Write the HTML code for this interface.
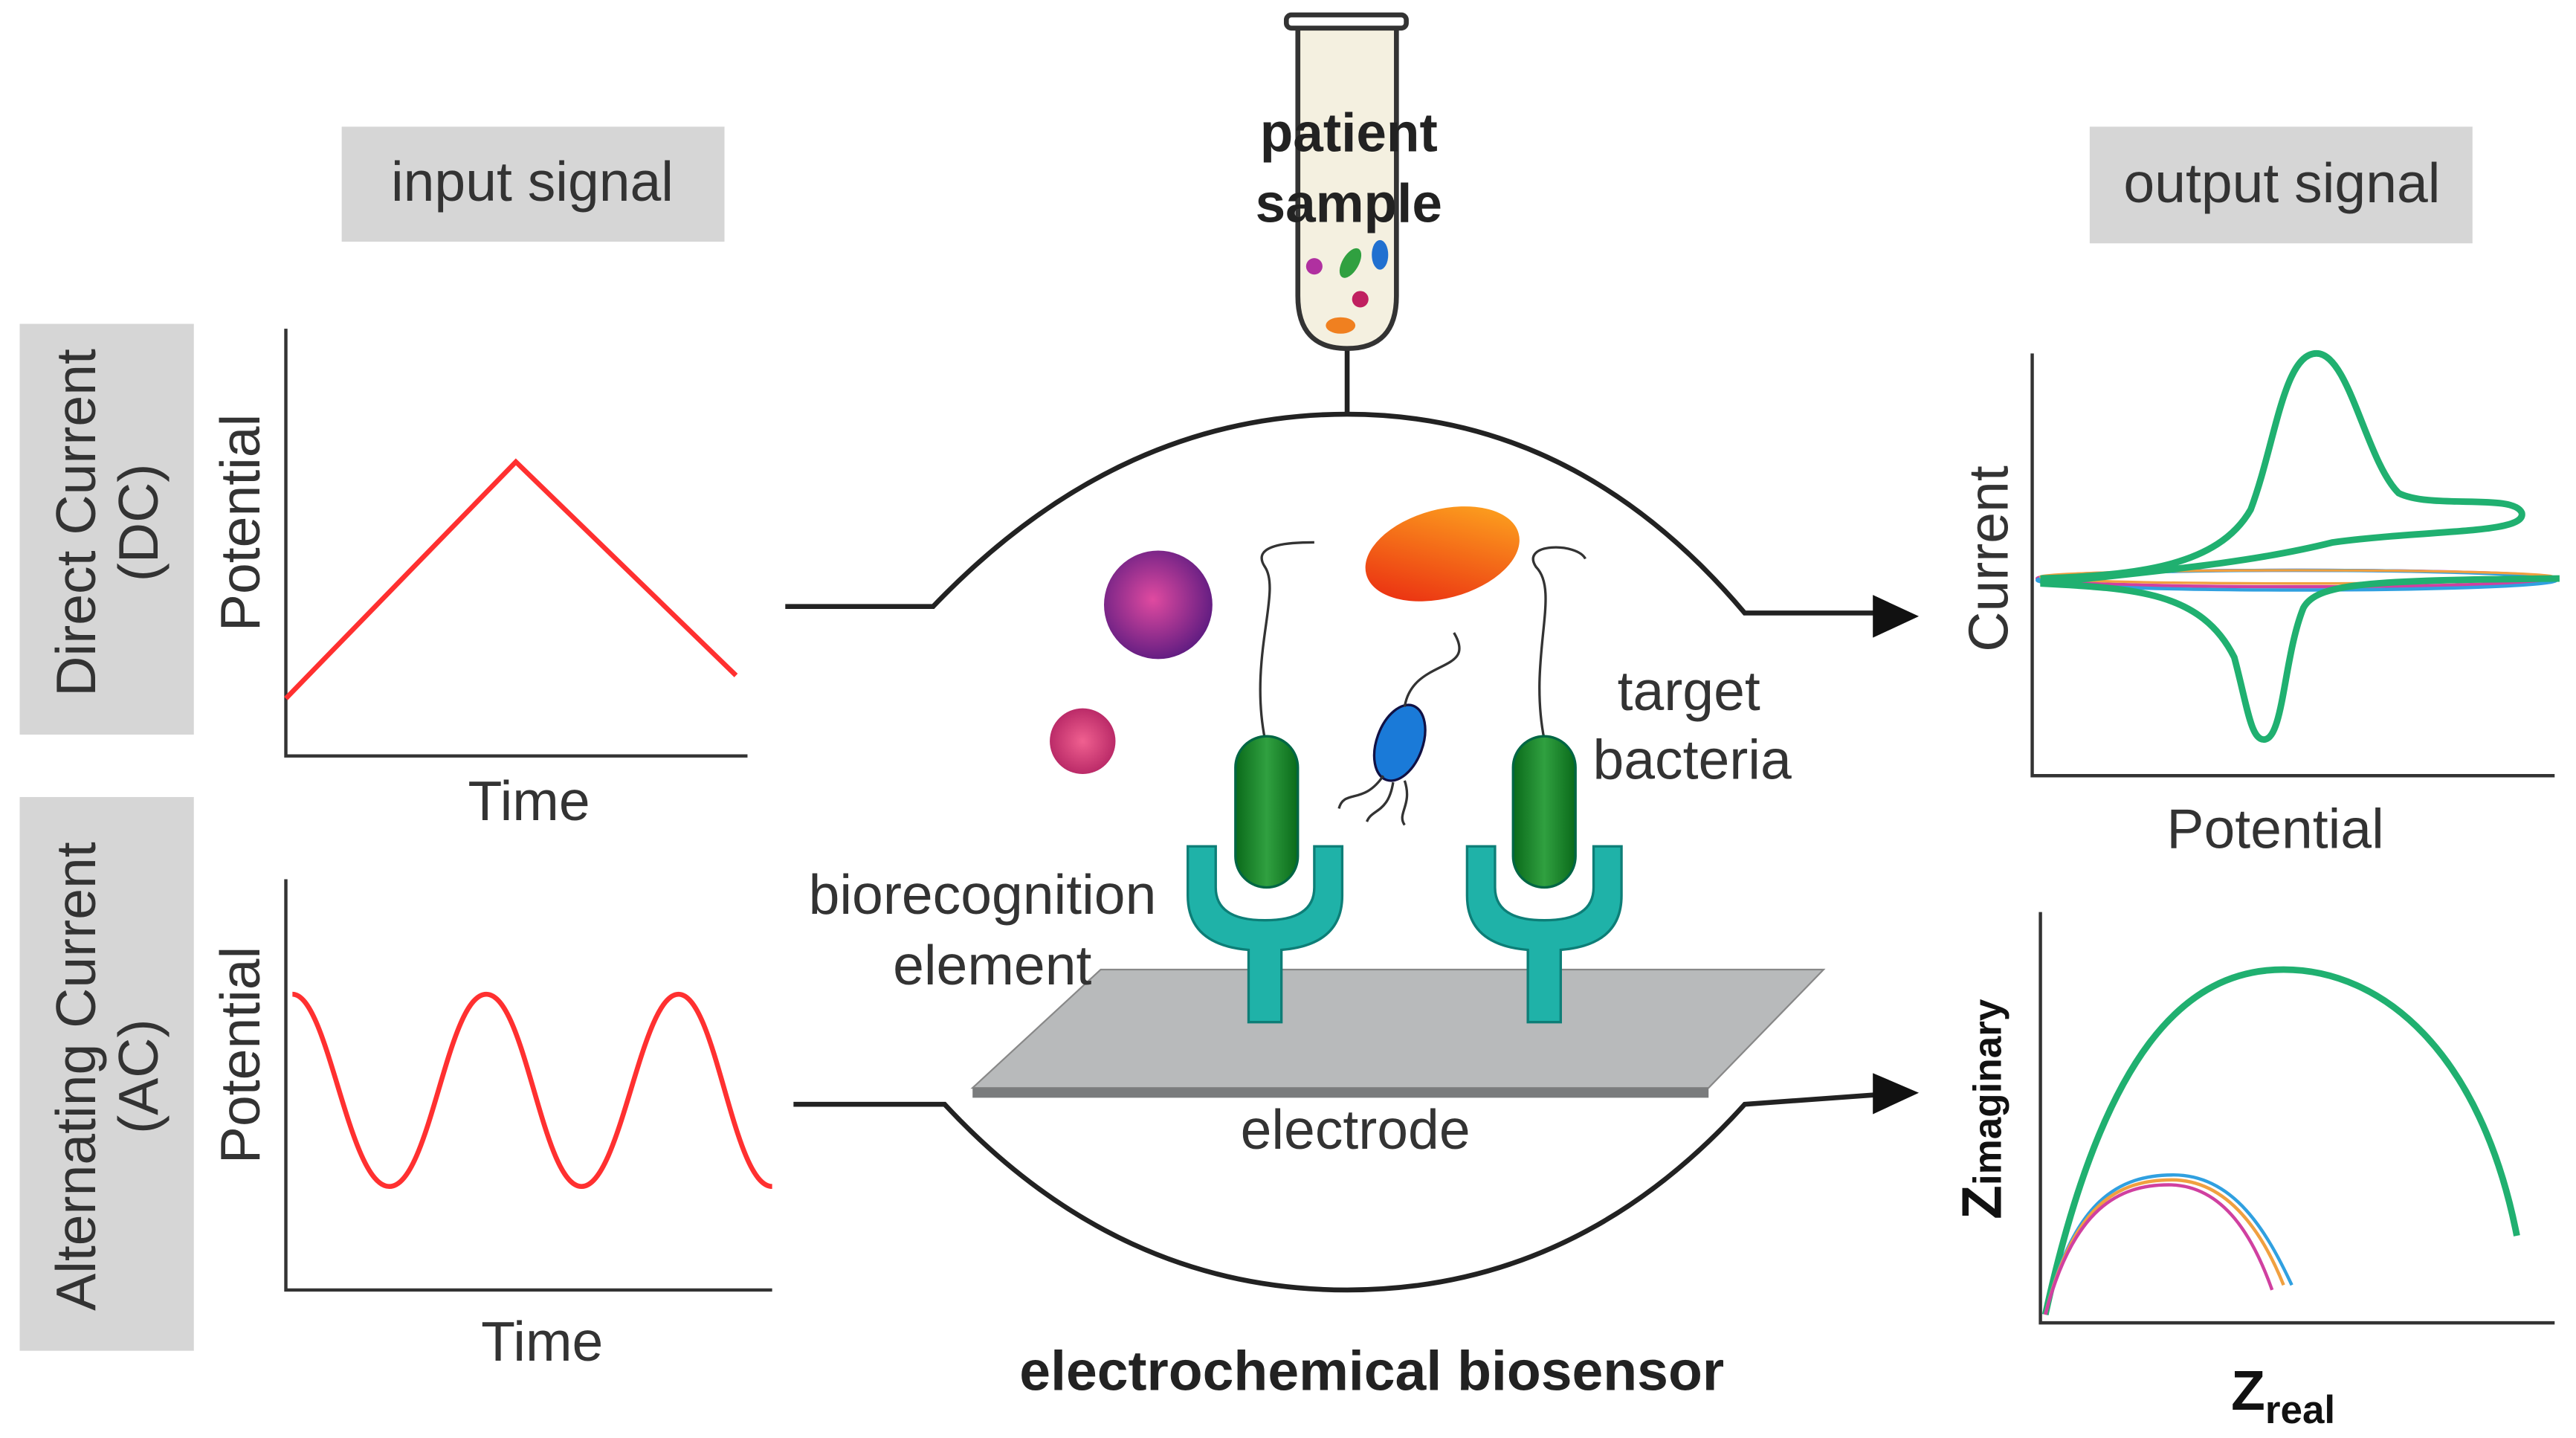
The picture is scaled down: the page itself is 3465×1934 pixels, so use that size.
<!DOCTYPE html>
<html><head><meta charset="utf-8"><style>
html,body{margin:0;padding:0;background:#fff;}
svg{display:block;}
text{font-family:"Liberation Sans",sans-serif;fill:#333;}
</style></head><body>
<svg width="3465" height="1934" viewBox="0 0 1568 875" xmlns="http://www.w3.org/2000/svg">
<defs>
<radialGradient id="pur" cx="0.45" cy="0.45" r="0.6"><stop offset="0" stop-color="#e04aa0"/><stop offset="1" stop-color="#5a1a80"/></radialGradient>
<radialGradient id="pink" cx="0.5" cy="0.5" r="0.6"><stop offset="0" stop-color="#f06090"/><stop offset="1" stop-color="#b02060"/></radialGradient>
<linearGradient id="org" x1="0" y1="1" x2="1" y2="0"><stop offset="0" stop-color="#e82010"/><stop offset="1" stop-color="#ffb020"/></linearGradient>
<linearGradient id="grn" x1="0" x2="1"><stop offset="0" stop-color="#0a6a1a"/><stop offset="0.5" stop-color="#30a040"/><stop offset="1" stop-color="#0a6a1a"/></linearGradient>
</defs>
<rect x="208" y="77" width="233" height="70" fill="#d6d6d6"/>
<text x="324" y="122" font-size="34" text-anchor="middle">input signal</text>
<rect x="1272" y="77" width="233" height="71" fill="#d6d6d6"/>
<text x="1389" y="123" font-size="34" text-anchor="middle">output signal</text>
<rect x="12" y="197" width="106" height="250" fill="#d6d6d6"/>
<text transform="translate(58,318) rotate(-90)" font-size="34" text-anchor="middle">Direct Current</text>
<text transform="translate(96,318) rotate(-90)" font-size="34" text-anchor="middle">(DC)</text>
<rect x="12" y="485" width="106" height="337" fill="#d6d6d6"/>
<text transform="translate(58,655) rotate(-90)" font-size="34" text-anchor="middle">Alternating Current</text>
<text transform="translate(96,655) rotate(-90)" font-size="34" text-anchor="middle">(AC)</text>
<path d="M174,200 L174,460 L455,460" fill="none" stroke="#333" stroke-width="2"/>
<text transform="translate(158,318) rotate(-90)" font-size="34" text-anchor="middle">Potential</text>
<text x="322" y="499" font-size="34" text-anchor="middle">Time</text>
<path d="M174,425 L314,281 L448,411" fill="none" stroke="#ff3030" stroke-width="3"/>
<path d="M174,535 L174,785 L470,785" fill="none" stroke="#333" stroke-width="2"/>
<text transform="translate(158,642) rotate(-90)" font-size="34" text-anchor="middle">Potential</text>
<text x="330" y="828" font-size="34" text-anchor="middle">Time</text>
<path d="M178,605 C200,605 212,722 237,722 C262,722 272,605 296,605 C320,605 330,722 354,722 C378,722 390,605 413,605 C436,605 446,722 470,722" fill="none" stroke="#ff3030" stroke-width="3"/>
<path d="M478,369 L568,369 Q680,252 820,252 Q960,252 1062,373 L1145,373" fill="none" stroke="#222" stroke-width="3"/>
<path d="M1140,362 L1168,375 L1140,388 Z" fill="#111"/>
<path d="M483,672 L575,672 Q680,785 820,785 Q960,785 1062,672 L1145,666" fill="none" stroke="#222" stroke-width="3"/>
<path d="M1140,653 L1168,665 L1140,678 Z" fill="#111"/>
<line x1="820" y1="212" x2="820" y2="252" stroke="#222" stroke-width="3"/>
<path d="M790,16 L790,180 Q790,212 820,212 Q850,212 850,180 L850,16" fill="#f4f0e0" stroke="#333" stroke-width="3"/>
<rect x="783" y="9" width="73" height="8" rx="3" fill="#fff" stroke="#333" stroke-width="3"/>
<ellipse cx="800" cy="162" rx="5" ry="5" fill="#b030a0"/>
<ellipse cx="822" cy="160" rx="5" ry="10" fill="#30a040" transform="rotate(30 822 160)"/>
<ellipse cx="840" cy="155" rx="5" ry="9" fill="#2070d0"/>
<ellipse cx="828" cy="182" rx="5" ry="5" fill="#c02060"/>
<ellipse cx="816" cy="198" rx="9" ry="5" fill="#f08020"/>
<text x="821" y="92" font-size="33" font-weight="bold" text-anchor="middle" style="fill:#222">patient</text>
<text x="821" y="135" font-size="33" font-weight="bold" text-anchor="middle" style="fill:#222">sample</text>
<circle cx="705" cy="368" r="33" fill="url(#pur)"/>
<circle cx="659" cy="451" r="20" fill="url(#pink)"/>
<ellipse cx="878" cy="337" rx="48" ry="27" fill="url(#org)" transform="rotate(-15 878 337)"/>
<ellipse cx="852" cy="452" rx="14" ry="24" fill="#1a7ad8" stroke="#114" stroke-width="1.5" transform="rotate(20 852 452)"/>
<path d="M855,430 C860,400 900,410 885,385 M842,472 C830,490 818,480 815,492 M848,476 C845,495 835,492 832,500 M855,475 C860,490 850,495 855,502" fill="none" stroke="#333" stroke-width="1.5"/>
<path d="M770,450 C760,400 780,360 770,345 C760,330 790,330 800,330" fill="none" stroke="#333" stroke-width="1.5"/>
<path d="M940,450 C930,400 950,360 935,345 C925,330 960,330 965,340" fill="none" stroke="#333" stroke-width="1.5"/>
<path d="M592,662 L1040,662 L1110,590 L670,590 Z" fill="#b8babb" stroke="#888" stroke-width="1"/>
<path d="M592,662 L1040,662 L1040,668 L592,668 Z" fill="#7a7c7d"/>
<text x="825" y="699" font-size="34" text-anchor="middle">electrode</text>
<g fill="#1fb2a8" stroke="#0d7e77" stroke-width="1.5">
<path d="M723,515 L740,515 L740,540 Q740,560 770,560 Q800,560 800,540 L800,515 L817,515 L817,545 Q817,575 780,578 L780,622 L760,622 L760,578 Q723,575 723,545 Z"/>
<path d="M893,515 L910,515 L910,540 Q910,560 940,560 Q970,560 970,540 L970,515 L987,515 L987,545 Q987,575 950,578 L950,622 L930,622 L930,578 Q893,575 893,545 Z"/>
</g>
<rect x="752" y="448" width="38" height="92" rx="19" fill="url(#grn)" stroke="#064" stroke-width="1.5"/>
<rect x="921" y="448" width="38" height="92" rx="19" fill="url(#grn)" stroke="#064" stroke-width="1.5"/>
<text x="1028" y="432" font-size="34" text-anchor="middle">target</text>
<text x="1030" y="474" font-size="34" text-anchor="middle">bacteria</text>
<text x="598" y="556" font-size="34" text-anchor="middle">biorecognition</text>
<text x="604" y="599" font-size="34" text-anchor="middle">element</text>
<text x="835" y="846" font-size="34" font-weight="bold" text-anchor="middle" style="fill:#222">electrochemical biosensor</text>
<path d="M1237,215 L1237,472 L1555,472" fill="none" stroke="#333" stroke-width="2"/>
<text transform="translate(1222,340) rotate(-90)" font-size="34" text-anchor="middle">Current</text>
<text x="1385" y="516" font-size="34" text-anchor="middle">Potential</text>
<ellipse cx="1398" cy="352" rx="158" ry="5" fill="none" stroke="#d040a0" stroke-width="2"/>
<ellipse cx="1398" cy="353" rx="158" ry="6" fill="none" stroke="#30a0e0" stroke-width="2"/>
<ellipse cx="1398" cy="351" rx="156" ry="4" fill="none" stroke="#f0a040" stroke-width="1.5"/>
<path d="M1242,352 C1300,350 1350,345 1370,310 C1385,270 1390,215 1410,215 C1430,215 1440,280 1460,300 C1480,310 1530,300 1535,312 C1538,325 1480,322 1420,330 C1380,340 1340,345 1242,355 C1300,358 1340,360 1360,400 C1368,430 1370,450 1378,450 C1390,450 1390,400 1402,370 C1410,355 1440,353 1558,352" fill="none" stroke="#20b070" stroke-width="4"/>
<path d="M1242,555 L1242,805 L1555,805" fill="none" stroke="#333" stroke-width="2"/>
<path d="M1245,800 C1280,640 1330,590 1390,590 C1450,590 1510,640 1532,752" fill="none" stroke="#20b070" stroke-width="4"/>
<path d="M1245,800 C1262,730 1290,715 1323,715 C1360,715 1380,750 1395,782" fill="none" stroke="#30a0e0" stroke-width="2"/>
<path d="M1245,800 C1262,732 1290,718 1322,718 C1357,718 1378,752 1390,782" fill="none" stroke="#f0a040" stroke-width="2"/>
<path d="M1245,800 C1262,735 1290,721 1320,721 C1354,721 1372,754 1383,785" fill="none" stroke="#d040a0" stroke-width="2"/>
<text transform="translate(1218,675) rotate(-90)" font-size="34" font-weight="bold" text-anchor="middle" style="fill:#111">Z<tspan font-size="24">imaginary</tspan></text>
<text x="1358" y="858" font-size="34" font-weight="bold" style="fill:#111">Z<tspan font-size="24" dy="8">real</tspan></text>
</svg>
</body></html>
